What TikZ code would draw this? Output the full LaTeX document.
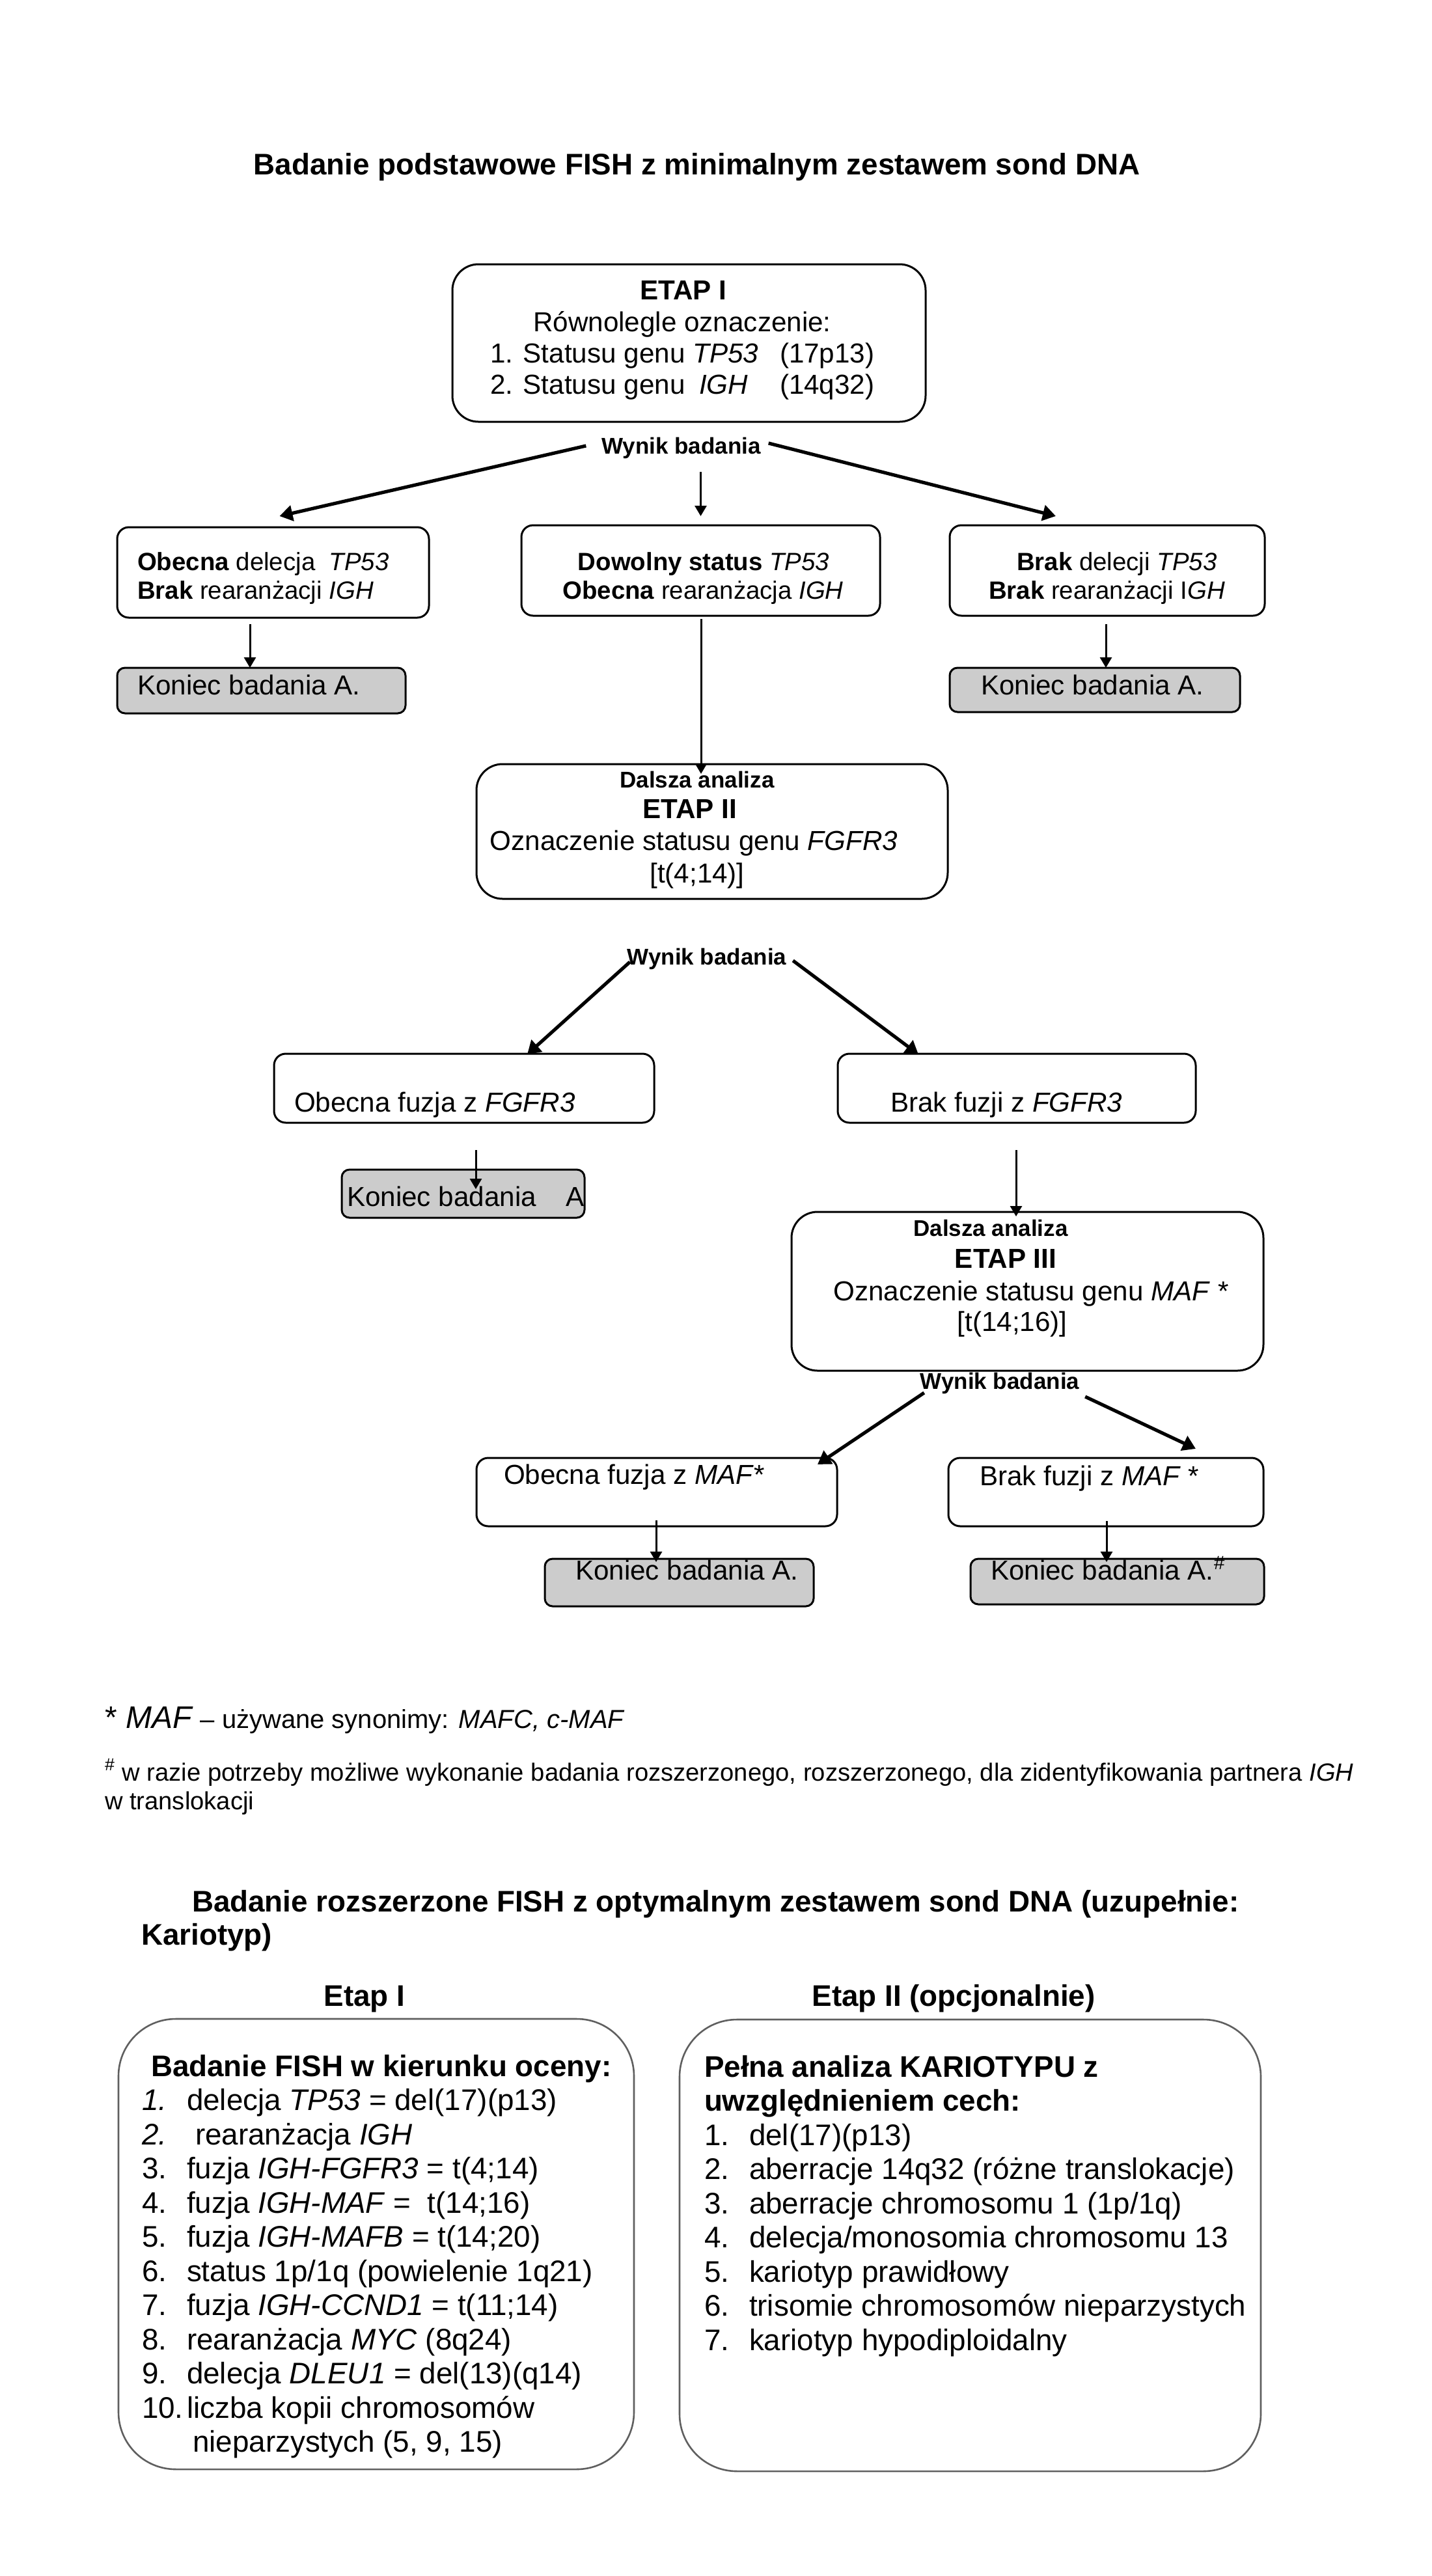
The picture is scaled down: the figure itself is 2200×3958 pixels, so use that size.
\documentclass[tikz,border=0pt]{standalone}
\usepackage{fontspec}
\setmainfont{Liberation Sans}
\usetikzlibrary{arrows.meta,calc}
\definecolor{boxgrey}{RGB}{204,204,204}
\definecolor{framegrey}{RGB}{95,95,95}
\newcommand\fsTitle{\fontsize{22.9pt}{26pt}\selectfont}
\newcommand\fsBody{\fontsize{21.1pt}{25pt}\selectfont}
\newcommand\fsRow{\fontsize{19.2pt}{23pt}\selectfont}
\newcommand\fsLab{\fontsize{17.5pt}{20pt}\selectfont}
\newcommand\fsFoot{\fontsize{19.1pt}{22pt}\selectfont}
\newcommand\fsFootA{\fontsize{20pt}{22pt}\selectfont}
\newcommand\fsFootB{\fontsize{24pt}{26pt}\selectfont}
\begin{document}
\begin{tikzpicture}[x=0.5pt,y=-0.5pt,
  tx/.style={inner sep=0pt, outer sep=0pt, anchor=base west},
  tc/.style={inner sep=0pt, outer sep=0pt, anchor=base},
  fbox/.style={draw=black, line width=1.5pt, rounded corners=#1, inner sep=0pt, outer sep=0pt},
  gbox/.style={fbox=6pt, fill=boxgrey},
  bbox/.style={draw=framegrey, line width=1.3pt, rounded corners=44pt, inner sep=0pt, outer sep=0pt},
  varr/.style={line width=1.5pt, -{Triangle[length=8pt,width=9pt]}},
  tarr/.style={line width=2.6pt, -{Triangle[length=10pt,width=12pt]}}]
\fill[white] (0,0) rectangle (2200,3958);
\useasboundingbox (0,0) rectangle (2200,3958);

% ---------- title ----------
\node[tc] (title1) at (1070.5,268) {\fsTitle\bfseries Badanie podstawowe FISH z minimalnym zestawem sond DNA};

% ---------- ETAP I ----------
\node[fbox=20pt, minimum width=363.5pt, minimum height=121pt] (etap1) at (1058.5,527) {};
\node[tc] (e1a) at (1050,460) {\fsBody\bfseries ETAP I};
\node[tc] (e1b) at (1048,509) {\fsBody Równolegle oznaczenie:};
\node[tx] (e1c) at (753,557) {\fsBody 1. Statusu genu \textit{TP53}};
\node[tx] (e1d) at (1198,557) {\fsBody (17p13)};
\node[tx] (e1e) at (753,605) {\fsBody 2. Statusu genu \hspace{5pt}\textit{IGH}};
\node[tx] (e1f) at (1198,605) {\fsBody (14q32)};
\node[tc] (wyn1) at (1046.5,697) {\fsLab\bfseries Wynik badania};

% ---------- row 2 ----------
\node[fbox=9pt, minimum width=239.5pt, minimum height=69.5pt] (r2L) at (419.5,879.5) {};
\node[tx] (r2La) at (211,876) {\fsRow\textbf{Obecna} delecja \ \textit{TP53}};
\node[tx] (r2Lb) at (211,920) {\fsRow\textbf{Brak} rearanżacji \textit{IGH}};
\node[fbox=9pt, minimum width=275.5pt, minimum height=69.5pt] (r2M) at (1076.5,876.5) {};
\node[tc] (r2Ma) at (1081,876) {\fsRow\textbf{Dowolny status} \textit{TP53}};
\node[tc] (r2Mb) at (1080,920) {\fsRow\textbf{Obecna} rearanżacja \textit{IGH}};
\node[fbox=9pt, minimum width=242pt, minimum height=69.5pt] (r2R) at (1701,876.5) {};
\node[tx] (r2Ra) at (1562,876) {\fsRow\textbf{Brak} delecji \textit{TP53}};
\node[tx] (r2Rb) at (1519,920) {\fsRow\textbf{Brak} rearanżacji I\textit{GH}};

\node[gbox, minimum width=221.5pt, minimum height=35pt] (end2L) at (401.5,1061) {};
\node[tx] (end2La) at (211,1067) {\fsBody Koniec badania A.};
\node[gbox, minimum width=223pt, minimum height=34pt] (end2R) at (1682,1060) {};
\node[tx] (end2Ra) at (1507,1067) {\fsBody Koniec badania A.};

% ---------- ETAP II ----------
\node[fbox=20pt, minimum width=362pt, minimum height=103.5pt] (etap2) at (1094,1277.5) {};
\node[tc] (e2a) at (1071,1210) {\fsLab\bfseries Dalsza analiza};
\node[tc] (e2b) at (1060,1257) {\fsBody\bfseries ETAP II};
\node[tc] (e2c) at (1066,1306) {\fsBody Oznaczenie statusu genu \textit{FGFR3}};
\node[tc] (e2d) at (1071,1356) {\fsBody [t(4;14)]};
\node[tc] (wyn2) at (1086,1482) {\fsLab\bfseries Wynik badania};

% ---------- row 3 ----------
\node[fbox=9pt, minimum width=292pt, minimum height=53pt] (r3L) at (713,1672) {};
\node[tx] (r3La) at (452,1708) {\fsBody Obecna fuzja z \textit{FGFR3}};
\node[fbox=9pt, minimum width=275pt, minimum height=53pt] (r3R) at (1562,1672) {};
\node[tx] (r3Ra) at (1368,1708) {\fsBody Brak fuzji z \textit{FGFR3}};
\node[gbox, minimum width=186.5pt, minimum height=37pt] (end3) at (711.5,1834) {};
\node[tx] (end3a) at (533,1853) {\fsBody Koniec badania};
\node[tx] (end3b) at (869,1853) {\fsBody A};

% ---------- ETAP III ----------
\node[fbox=20pt, minimum width=362.5pt, minimum height=122pt] (etap3) at (1578.5,1984) {};
\node[tc] (e3a) at (1522,1899) {\fsLab\bfseries Dalsza analiza};
\node[tc] (e3b) at (1545,1948) {\fsBody\bfseries ETAP III};
\node[tc] (e3c) at (1584,1998) {\fsBody Oznaczenie statusu genu \textit{MAF} *};
\node[tc] (e3d) at (1555,2045) {\fsBody [t(14;16)]};
\node[tc] (wyn3) at (1536,2134) {\fsLab\bfseries Wynik badania};

% ---------- row 4 ----------
\node[fbox=9pt, minimum width=277pt, minimum height=52.5pt] (r4L) at (1009,2292.5) {};
\node[tx] (r4La) at (774,2280) {\fsBody Obecna fuzja z \textit{MAF}*};
\node[fbox=9pt, minimum width=242pt, minimum height=52.5pt] (r4R) at (1699,2292.5) {};
\node[tx] (r4Ra) at (1505,2282) {\fsBody Brak fuzji z \textit{MAF} *};
\node[gbox, minimum width=206.5pt, minimum height=36.5pt] (end4L) at (1043.5,2431.5) {};
\node[tx] (end4La) at (884,2427) {\fsBody Koniec badania A.};
\node[gbox, minimum width=225.5pt, minimum height=35pt] (end4R) at (1716.5,2430) {};
\node[tx] (end4Ra) at (1522,2427) {\fsBody Koniec badania A.\textsuperscript{\itshape\#}};

% ---------- arrows ----------
\draw[tarr] ($(wyn1.west)+(-24,-3)$) -- ($(r2L.north)+(10,-17)$);
\draw[varr] ($(r2M.north)+(0,-82)$) -- ($(r2M.north)+(0,-14)$);
\draw[tarr] ($(wyn1.east)+(12,-7)$) -- ($(r2R.north)+(-79,-14)$);
\draw[varr] ($(r2L.south)+(-35.5,10)$) -- ($(end2L.north)+(-17.5,0)$);
\draw[varr] ($(r2R.south)+(-2,13)$) -- ($(end2R.north)+(17,0)$);
\draw[varr] ($(r2M.south)+(0.5,5)$) -- ($(etap2.north)+(-17,15)$);
\draw[tarr] ($(wyn2.west)+(4,5)$) -- ($(r3L.north)+(97,1)$);
\draw[tarr] ($(wyn2.east)+(10,3)$) -- ($(r3R.north)+(-151,1)$);
\draw[varr] ($(r3L.south)+(18,42)$) -- ($(end3.north)+(19.5,30)$);
\draw[varr] ($(r3R.south)+(-1,42)$) -- ($(etap3.north)+(-17.5,7)$);
\draw[tarr] ($(wyn3.west)+(6,15)$) -- ($(r4L.north)+(247,10)$);
\draw[tarr] ($(wyn3.east)+(9,21)$) -- ($(r4R.north)+(138,-14)$);
\draw[varr] ($(r4L.south)+(-1,-9)$) -- ($(end4L.north)+(-35.5,5)$);
\draw[varr] ($(r4R.south)+(1,-8)$) -- ($(end4R.north)+(-16.5,5)$);

% ---------- footnotes ----------
\node[tx] (fn1) at (161,2655) {\fsFootB * \textit{MAF}\fsFootA{} – używane synonimy: \textit{MAFC, c-MAF}};
\node[tx] (fn2) at (161,2736) {\fsFoot\textsuperscript{\#} w razie potrzeby możliwe wykonanie badania rozszerzonego, rozszerzonego, dla zidentyfikowania partnera \textit{IGH}};
\node[tx] (fn3) at (161,2780) {\fsFoot w translokacji};

% ---------- second part ----------
\node[tx] (title2a) at (295,2937) {\fsTitle\bfseries Badanie rozszerzone FISH z optymalnym zestawem sond DNA (uzupełnie:};
\node[tx] (title2b) at (217,2988) {\fsTitle\bfseries Kariotyp)};
\node[tc] (h1) at (560,3082) {\fsTitle\bfseries Etap I};
\node[tc] (h2) at (1465,3082) {\fsTitle\bfseries Etap II (opcjonalnie)};

\node[bbox, minimum width=396pt, minimum height=346pt] (bL) at (578,3448) {};
\node[bbox, minimum width=446.5pt, minimum height=347pt] (bR) at (1490.5,3450) {};

\node[tx] (bLh) at (232,3190) {\fsTitle\bfseries Badanie FISH w kierunku oceny:};
\foreach \n/\t/\k in {\textit{1.}/{delecja \textit{TP53} = del(17)(p13)}/1,
    \textit{2.}/{\hspace{6.5pt}rearanżacja \textit{IGH}}/2,
    3./{fuzja \textit{IGH-FGFR3} = t(4;14)}/3,
    4./{fuzja \textit{IGH-MAF} = \ t(14;16)}/4,
    5./{fuzja \textit{IGH-MAFB} = t(14;20)}/5,
    6./{status 1p/1q (powielenie 1q21)}/6,
    7./{fuzja \textit{IGH-CCND1} = t(11;14)}/7,
    8./{rearanżacja \textit{MYC} (8q24)}/8,
    9./{delecja \textit{DLEU1} = del(13)(q14)}/9,
    10./{liczba kopii chromosomów}/10}{
  \node[tx] (ln\k) at (218,3190+52.5*\k) {\fsTitle\n};
  \node[tx] (lt\k) at (287,3190+52.5*\k) {\fsTitle\t};
}
\node[tx] (lt11) at (296,3767.5) {\fsTitle nieparzystych (5, 9, 15)};

\node[tx] (bRh1) at (1082,3191) {\fsTitle\bfseries Pełna analiza KARIOTYPU z};
\node[tx] (bRh2) at (1082,3243.5) {\fsTitle\bfseries uwzględnieniem cech:};
\foreach \t [count=\k] in {del(17)(p13),
    aberracje 14q32 (różne translokacje),
    aberracje chromosomu 1 (1p/1q),
    delecja/monosomia chromosomu 13,
    kariotyp prawidłowy,
    trisomie chromosomów nieparzystych,
    kariotyp hypodiploidalny}{
  \node[tx] (rn\k) at (1082,3243.5+52.5*\k) {\fsTitle\k.};
  \node[tx] (rt\k) at (1151,3243.5+52.5*\k) {\fsTitle\t};
}
\end{tikzpicture}
\end{document}
